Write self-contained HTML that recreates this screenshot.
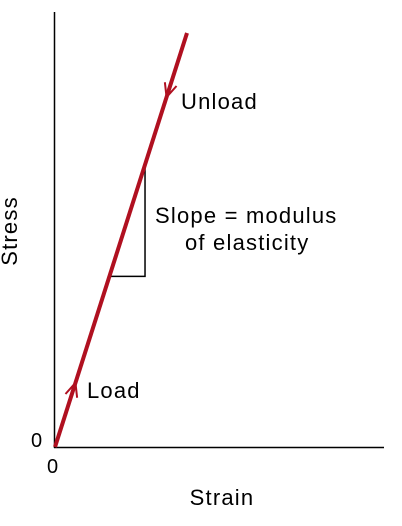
<!DOCTYPE html>
<html><head><meta charset="utf-8"><style>
html,body{margin:0;padding:0;background:#fff;}
svg{display:block;font-family:"Liberation Sans",Arial,sans-serif;}
text{letter-spacing:1.2px;}
</style></head><body>
<svg id="chart" width="402" height="526" viewBox="0 0 402 526">
<line x1="54.5" y1="12" x2="54.5" y2="448" stroke="#000" stroke-width="1.5"/>
<line x1="54" y1="447.5" x2="384" y2="447.5" stroke="#000" stroke-width="1.5"/>
<text x="31" y="447" font-size="20">0</text>
<text x="47" y="473" font-size="20">0</text>
<text x="222" y="505" font-size="22" text-anchor="middle">Strain</text>
<text x="0" y="0" font-size="22" text-anchor="middle" transform="translate(17,231) rotate(-90)">Stress</text>
<g id="marks"></g>
<text x="181" y="109" font-size="22">Unload</text>
<text x="155" y="223" font-size="22">Slope = modulus</text>
<text x="185" y="250" font-size="22">of elasticity</text>
<text x="87" y="398" font-size="22">Load</text>
</svg>
<script>
const strainValues = [0, 1];
const stressValues = [0, 1];
const triangleStrain = [0.412, 0.682];
const arrowStrain = [0.155, 0.845];
const x0 = 55, y0 = 447, xs = 132, ys = 414;
function sx(v){return x0 + v*xs;}
function sy(v){return y0 - v*ys;}
const ns = "http://www.w3.org/2000/svg";
const g = document.getElementById('marks');
function mk(tag, attrs){const e=document.createElementNS(ns,tag);for(const k in attrs)e.setAttribute(k,attrs[k]);g.appendChild(e);return e;}
const slope = stressValues[1]/strainValues[1];
const tx1 = sx(triangleStrain[0]), ty1 = sy(triangleStrain[0]*slope);
const tx2 = sx(triangleStrain[1]), ty2 = sy(triangleStrain[1]*slope);
const tri = mk('polyline',{points:`${tx1},${ty1} ${tx2},${ty1} ${tx2},${ty2}`,fill:'none',stroke:'#000','stroke-width':1.5});


const ln = mk('line',{x1:sx(strainValues[0]),y1:sy(stressValues[0]),x2:sx(strainValues[1]),y2:sy(stressValues[1]),stroke:'#b01020','stroke-width':4,'stroke-linecap':'butt'});


const ang = Math.atan2(-ys*slope, xs);
arrowStrain.forEach((s,i)=>{
  const cx = sx(s), cy = sy(s*slope);
  const dir = i===0 ? ang : ang+Math.PI;
  const L=15, w=0.42;
  const p1 = [cx - L*Math.cos(dir-w), cy - L*Math.sin(dir-w)];
  const p2 = [cx - L*Math.cos(dir+w), cy - L*Math.sin(dir+w)];
  const a = mk('polyline',{points:`${p1[0]},${p1[1]} ${cx},${cy} ${p2[0]},${p2[1]}`,fill:'none',stroke:'#b01020','stroke-width':2});
  
  
});
</script>
</body></html>
